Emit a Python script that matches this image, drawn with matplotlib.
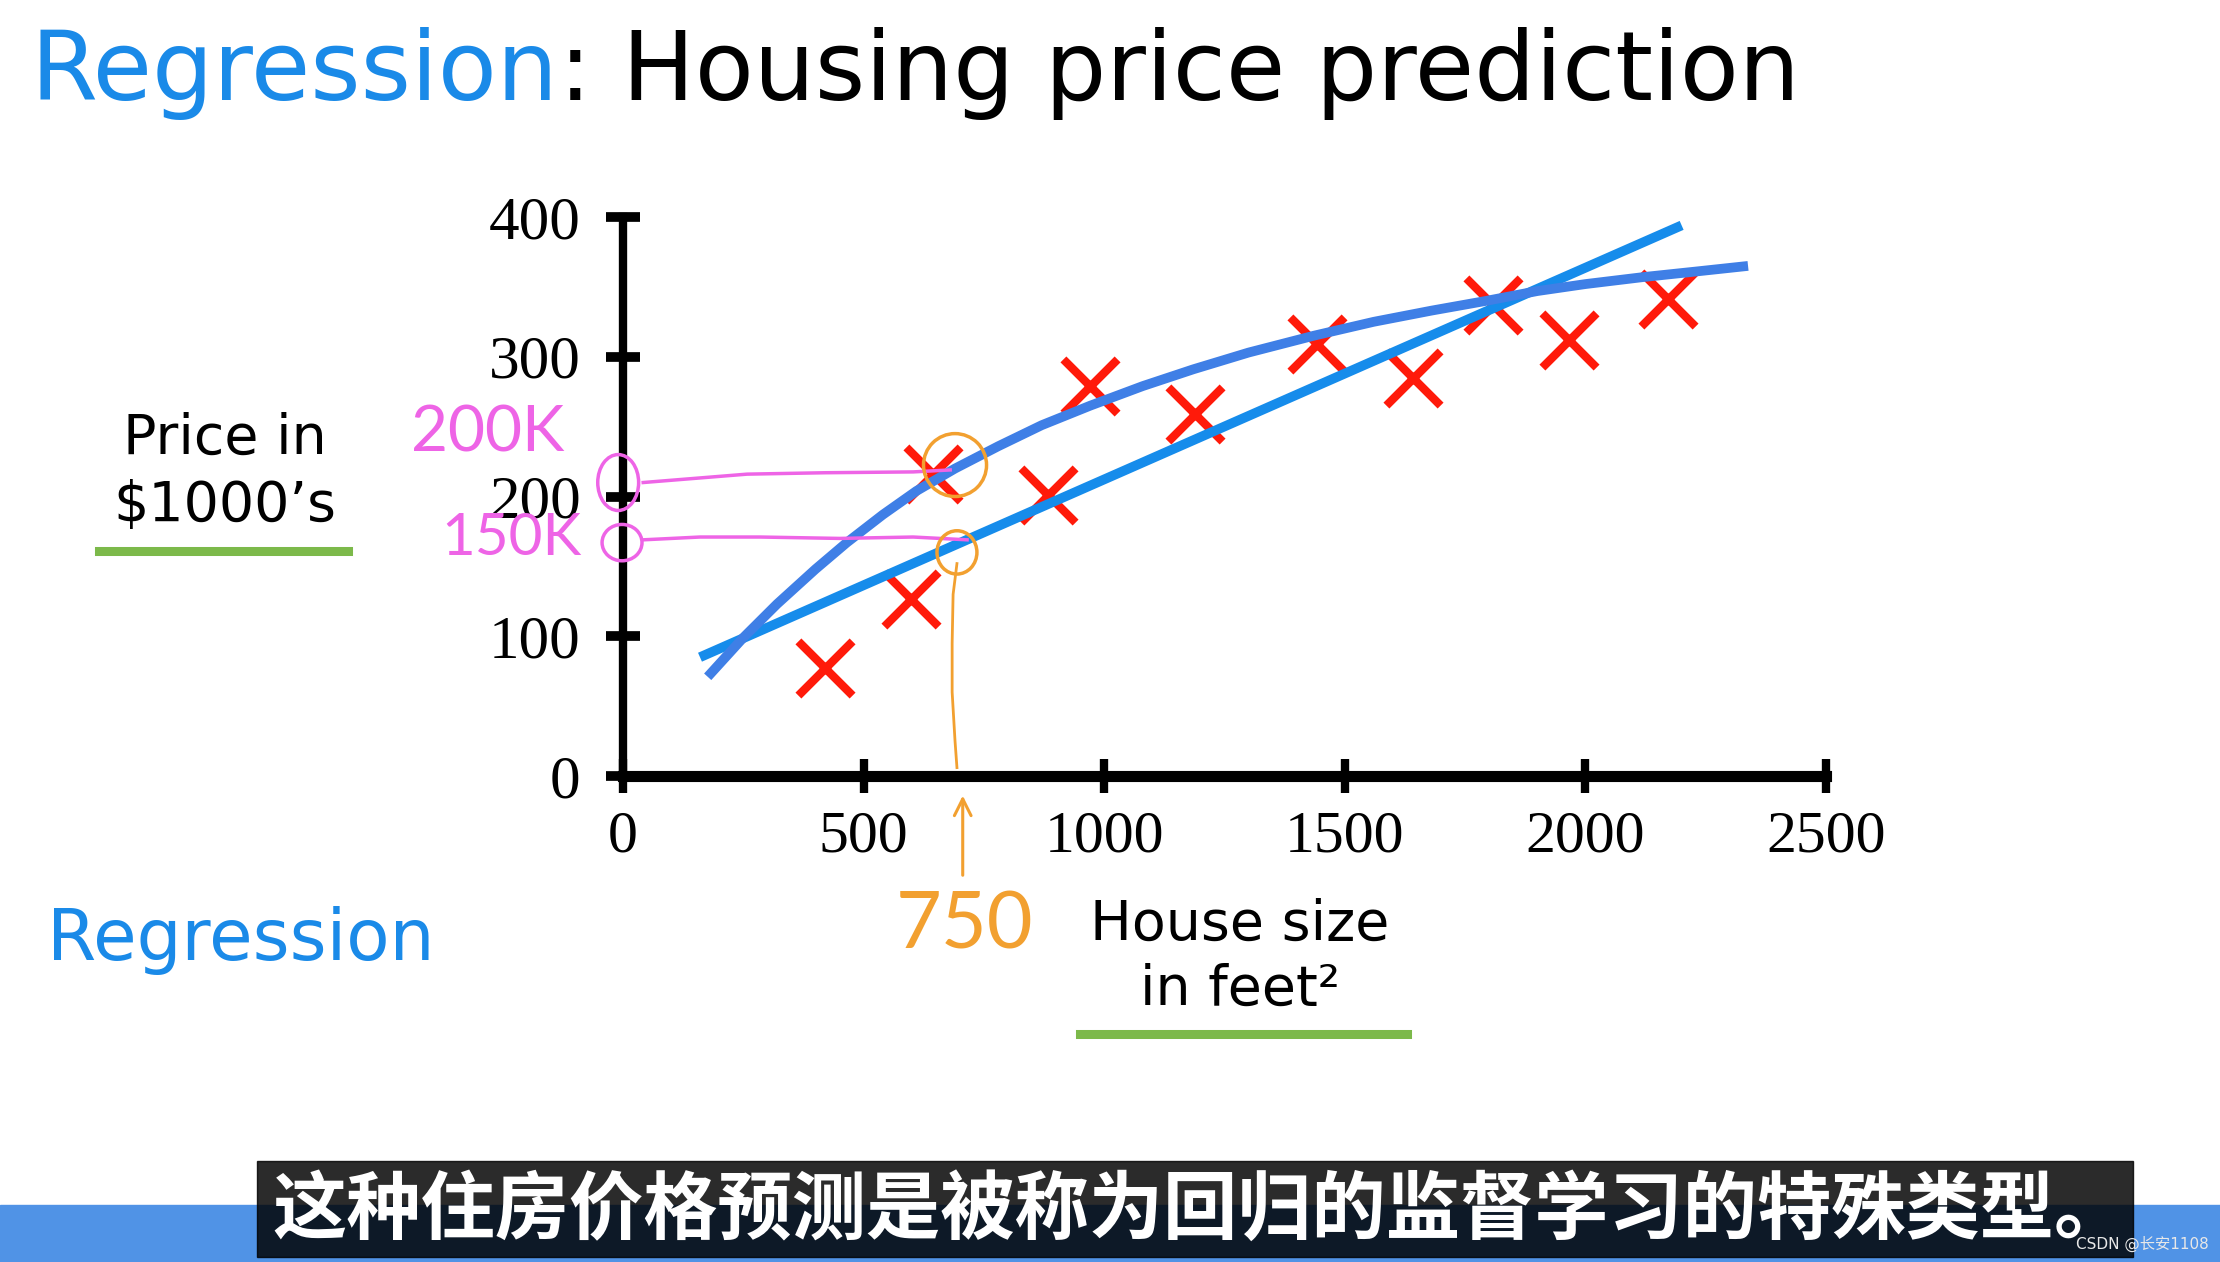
import matplotlib.pyplot as plt
from matplotlib.patches import Ellipse, Rectangle
from matplotlib.lines import Line2D

# --- data ---
house_size = [419, 598, 645, 884, 971, 1188, 1443, 1641, 1808, 1965, 2171]
price = [77, 127, 216, 201, 279, 259, 309, 285, 337, 312, 341]

# straight-line fit (end points of the drawn line)
line_x = [160, 2200]
line_y = [85, 394]

# curved fit, points
curve_x = [176, 250, 320, 400, 465, 540, 610, 690, 780, 870, 971, 1080,
           1185, 1300, 1435, 1560, 1680, 1794, 1900, 2000, 2120, 2230, 2338]
curve_y = [71, 99, 123, 148, 167, 187, 204, 220, 236, 251, 265, 279,
           291, 303, 315, 325, 333, 340, 347, 352, 357, 361, 365]

x_ticks = [0, 500, 1000, 1500, 2000, 2500]
y_ticks = [0, 100, 200, 300, 400]

# hand-drawn reading for a 750 ft² house
pink_labels = ["200K", "150K"]
pink_label_pos = [(-281, 245), (-231, 170)]
pink_label_size = [46, 42]
pink_rings = [(-10, 210, 85, 40), (-2, 167, 83, 26)]
pink_trace_x = [[42, 150, 258, 420, 603, 680], [42, 160, 285, 450, 603, 715]]
pink_trace_y = [[210, 213, 216, 217, 217.6, 219], [169, 171, 171, 170, 171, 169]]
orange_rings = [(690, 222.5, 131, 45), (694, 160, 83, 31)]
orange_drop_x = [694, 686, 684, 684, 690, 694]
orange_drop_y = [152, 130, 95, 60, 25, 6]

W, H = 2220, 1262
BLUE_TXT = '#1a8ae8'
PINK = '#ee64e6'
ORANGE = '#f2a030'
GREEN = '#7cb94a'

fig = plt.figure(figsize=(W / 100, H / 100), dpi=100)
fig.patch.set_facecolor('white')

def fx(px):
    return px / W

def fy(py):
    return 1 - py / H

ax = fig.add_axes([fx(623), fy(776), 1203 / W, 559 / H])
ax.set_xlim(0, 2500)
ax.set_ylim(0, 400)

# fits and points
ax.scatter(house_size, price, marker='x', s=39 ** 2, linewidths=6,
           color='#ff1a0a', zorder=2)
ax.plot(line_x, line_y, color='#168ceb', lw=7, solid_capstyle='butt', zorder=3)
ax.plot(curve_x, curve_y, color='#3f7fe6', lw=7, solid_capstyle='butt',
        solid_joinstyle='round', zorder=3)

# axes styling
for side in ['top', 'right']:
    ax.spines[side].set_visible(False)
ax.spines['left'].set_linewidth(6)
ax.spines['bottom'].set_linewidth(8)
for side in ['left', 'bottom']:
    ax.spines[side].set_capstyle('projecting')
ax.set_xticks(x_ticks)
ax.set_yticks(y_ticks)
ax.tick_params(axis='x', direction='inout', length=25, width=6, pad=12,
               labelsize=43)
ax.tick_params(axis='y', direction='inout', length=25, width=7, pad=18,
               labelsize=44)
for lab in ax.get_xticklabels() + ax.get_yticklabels():
    lab.set_fontfamily('Liberation Serif')

# pink annotations
for txt, (x, y), sz in zip(pink_labels, pink_label_pos, pink_label_size):
    ax.text(x, y, txt, color=PINK, fontsize=sz, ha='center', va='center',
            family='Lato', clip_on=False)
for (x, y, w, h) in pink_rings:
    ax.add_patch(Ellipse((x, y), w, h, fill=False, ec=PINK, lw=2.5,
                         clip_on=False, zorder=5))
for xs, ys in zip(pink_trace_x, pink_trace_y):
    ax.plot(xs, ys, color=PINK, lw=2.5, clip_on=False, zorder=5)

# orange annotations
for (x, y, w, h) in orange_rings:
    ax.add_patch(Ellipse((x, y), w, h, fill=False, ec=ORANGE, lw=2.5,
                         clip_on=False, zorder=5))
ax.plot(orange_drop_x, orange_drop_y, color=ORANGE, lw=2, zorder=5)
ax.annotate('', xy=(706, -12), xytext=(706, -73), annotation_clip=False,
            arrowprops=dict(arrowstyle='->', color=ORANGE, lw=2.2,
                            mutation_scale=30))
ax.text(709, -108, '750', color=ORANGE, fontsize=57, ha='center',
        va='center', family='Lato', clip_on=False)

# title
t1 = fig.text(fx(31), fy(100), 'Regression', color=BLUE_TXT, fontsize=69.5,
              va='baseline', ha='left')
r = fig.canvas.get_renderer()
bb = t1.get_window_extent(renderer=r)
fig.text(bb.x1 / W, fy(100), ': Housing price prediction', color='black',
         fontsize=69.5, va='baseline', ha='left')

# axis labels
fig.text(fx(225), fy(454), 'Price in', fontsize=40, ha='center', va='baseline')
fig.text(fx(225), fy(521), '$1000\u2019s', fontsize=40, ha='center',
         va='baseline')
fig.add_artist(Line2D([fx(99), fx(348)], [fy(551)] * 2, lw=6.5, color=GREEN,
                      transform=fig.transFigure))
fig.text(fx(1240), fy(940), 'House size', fontsize=40, ha='center',
         va='baseline')
fig.text(fx(1240), fy(1005), 'in feet\u00b2', fontsize=40, ha='center',
         va='baseline')
fig.add_artist(Line2D([fx(1080), fx(1407)], [fy(1034)] * 2, lw=6.5,
                      color=GREEN, transform=fig.transFigure))

fig.text(fx(47), fy(960), 'Regression', color=BLUE_TXT, fontsize=51,
         va='baseline', ha='left')

# bottom band and subtitle
fig.add_artist(Rectangle((0, 0), 1, (H - 1205) / H, transform=fig.transFigure,
                         color='#5093e6', zorder=0))
fig.add_artist(Rectangle((fx(257), fy(1257)), (2133 - 257) / W, 96 / H,
                         transform=fig.transFigure, color='black', alpha=0.83,
                         zorder=1))
fig.text(fx(1201), fy(1211), '这种住房价格预测是被称为回归的监督学习的特殊类型。',
         color='white', fontsize=53.5, weight='bold', ha='center', va='center',
         family=['Noto Sans CJK SC', 'DejaVu Sans'], zorder=2)
fig.text(fx(2076), fy(1244), 'CSDN @长安1108', color='#e8e8e8', fontsize=11,
         ha='left', va='center', family=['DejaVu Sans', 'Noto Sans CJK SC'],
         zorder=2)

fig.savefig('out.png', dpi=100)
